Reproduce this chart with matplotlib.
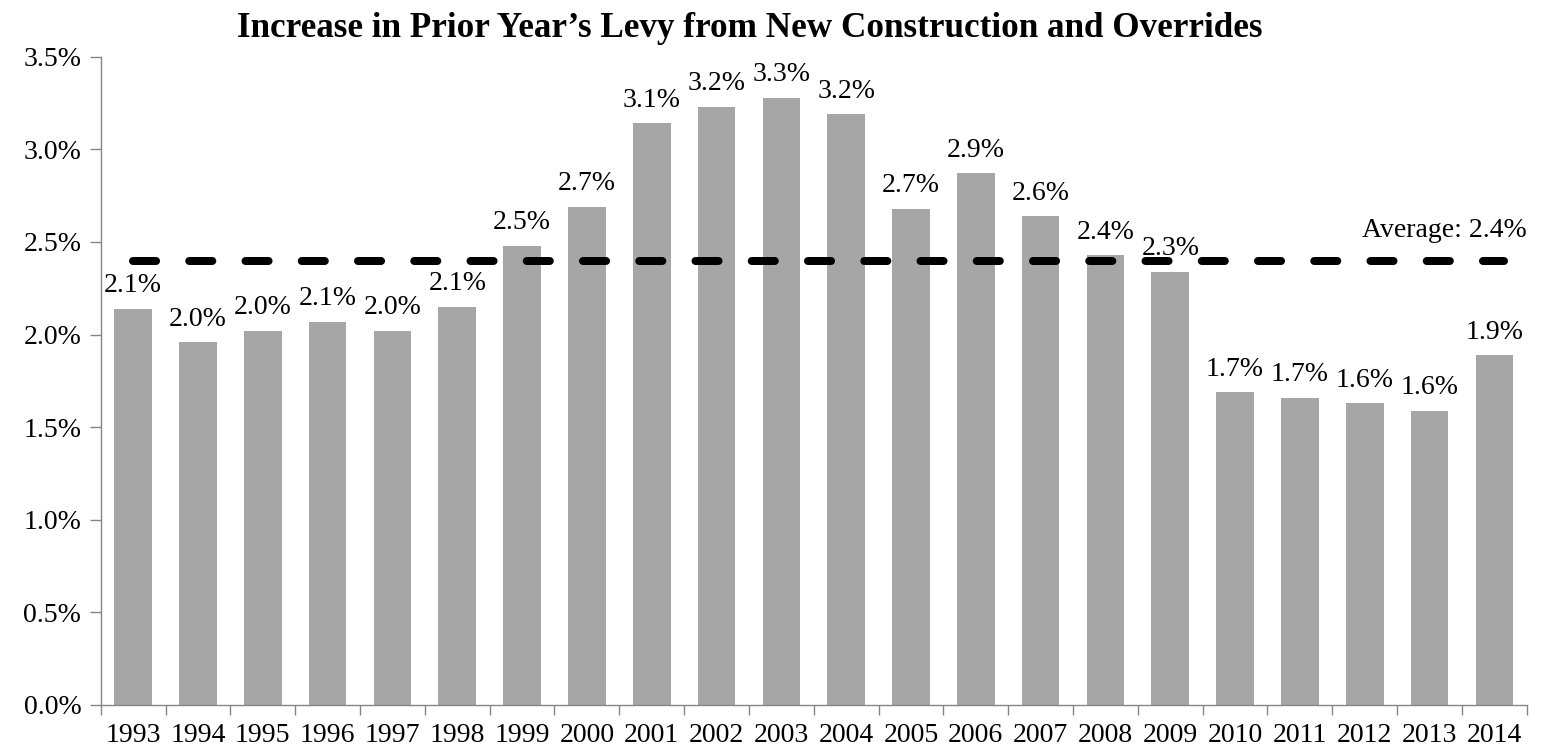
import numpy as np
import matplotlib.pyplot as plt

plt.rcParams['font.family'] = ['Liberation Serif', 'DejaVu Serif']
plt.rcParams['lines.scale_dashes'] = False

# data (percent)
years = ['1993', '1994', '1995', '1996', '1997', '1998', '1999', '2000', '2001', '2002', '2003',
         '2004', '2005', '2006', '2007', '2008', '2009', '2010', '2011', '2012', '2013', '2014']
increase = [2.14, 1.96, 2.02, 2.07, 2.02, 2.15, 2.48, 2.69, 3.14, 3.23, 3.28,
            3.19, 2.68, 2.87, 2.64, 2.43, 2.34, 1.69, 1.66, 1.63, 1.59, 1.89]
average = 2.4

fig = plt.figure(figsize=(15.5, 7.52), dpi=100)
ax = fig.add_axes([0.065, 0.0625, 0.92, 0.862])

x = np.arange(len(years))
ax.bar(x, increase, width=0.58, color='#a6a6a6', zorder=2)

# value labels above each bar
for xi, v in zip(x, increase):
    ax.annotate(f'{v:.1f}%', (xi, v), xytext=(0, 7.5), textcoords='offset points',
                ha='center', va='bottom', fontsize=20)

# average line
ax.hlines(average, x[0], x[-1] + 0.15, colors='black', linewidth=5.76,
          linestyles=(0, (16.6, 23.9)), capstyle='round', zorder=3)
ax.text(len(years) - 0.5, average + 0.16, f'Average: {average:.1f}%',
        ha='right', va='center', fontsize=20)

ax.set_xlim(-0.5, len(years) - 0.5)
ax.set_ylim(0, 3.5)
ax.set_yticks(np.arange(0, 3.51, 0.5))
ax.set_yticklabels([f'{t:.1f}%' for t in np.arange(0, 3.51, 0.5)])
ax.set_xticks(x)
ax.set_xticklabels(years)
ax.set_xticks(np.arange(-0.5, len(years), 1), minor=True)

ax.tick_params(axis='x', which='major', length=0, labelsize=20, pad=13)
ax.tick_params(axis='x', which='minor', length=7, color='#868686', width=1)
ax.tick_params(axis='y', length=8, color='#868686', width=1, labelsize=20, pad=6)

for s in ['top', 'right']:
    ax.spines[s].set_visible(False)
for s in ['left', 'bottom']:
    ax.spines[s].set_color('#868686')
    ax.spines[s].set_linewidth(1)

fig.text(0.484, 1 - 37 / 752, 'Increase in Prior Year\u2019s Levy from New Construction and Overrides',
         ha='center', va='baseline', fontsize=25.3, fontweight='bold')

fig.savefig('out.png', dpi=100)
